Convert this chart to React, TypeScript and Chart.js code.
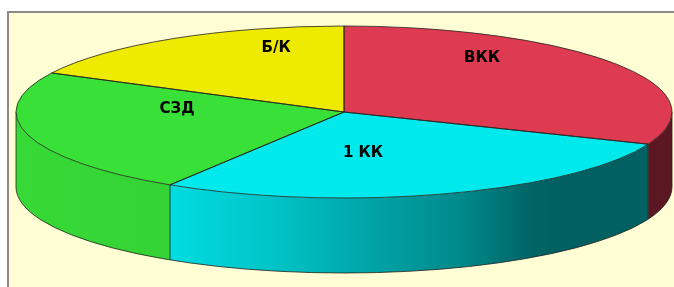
import React, { useEffect, useRef } from 'react';
import { Chart, registerables } from 'chart.js';

Chart.register(...registerables);

// ---- data ----
const categories = ['ВКК', '1 КК', 'СЗД', 'Б/К'];
const shares = [31.1, 27.8, 23.6, 17.5];
const topColors = ['#DE3A52', '#00EAEE', '#38E038', '#EEEA00'];

// ---- layout / style (not data) ----
const PIE = { cx: 344, cy: 112, rx: 328, ry: 86, depth: 75 };
// label anchors in normalized ellipse coordinates (u along rx, v along ry)
const labelSpots: number[][] = [
  [0.421, -0.64],
  [0.058, 0.465],
  [-0.509, -0.047],
  [-0.207, -0.756],
];
// side-wall lighting: [position across pie width, brightness factor]
const shadeStops: number[][] = [
  [0, 0.97],
  [0.238, 0.94],
  [0.387, 0.84],
  [0.54, 0.7],
  [0.677, 0.59],
  [0.783, 0.43],
  [0.83, 0.41],
  [1, 0.41],
];
const OUTLINE = 'rgba(35,35,30,0.8)';
const BG = '#FFFDD3';

function shade(hex: string, f: number) {
  const n = parseInt(hex.slice(1), 16);
  const r = Math.round(((n >> 16) & 255) * f);
  const g = Math.round(((n >> 8) & 255) * f);
  const b = Math.round((n & 255) * f);
  return `rgb(${r},${g},${b})`;
}

const pie3d = {
  id: 'pie3d',
  beforeDatasetsDraw(chart: any) {
    const meta = chart.getDatasetMeta(0);
    const arcs = meta.data;
    chart.$pie3dSaved = false;
    if (!arcs || !arcs.length) return;
    const ctx = chart.ctx as CanvasRenderingContext2D;
    const { cx, cy, rx, ry, depth } = PIE;

    // side walls (front half only)
    arcs.forEach((arc: any, i: number) => {
      const s = Math.max(arc.startAngle, 0);
      const e = Math.min(arc.endAngle, Math.PI);
      if (e <= s) return;
      const g = ctx.createLinearGradient(cx - rx, 0, cx + rx, 0);
      shadeStops.forEach(([p, f]) => g.addColorStop(p, shade(topColors[i], f)));
      ctx.beginPath();
      ctx.ellipse(cx, cy, rx, ry, 0, s, e, false);
      ctx.ellipse(cx, cy + depth, rx, ry, 0, e, s, true);
      ctx.closePath();
      ctx.fillStyle = g;
      ctx.fill();
    });

    // side outlines
    ctx.save();
    ctx.strokeStyle = OUTLINE;
    ctx.lineWidth = 1;
    ctx.beginPath();
    ctx.ellipse(cx, cy + depth, rx, ry, 0, 0, Math.PI, false);
    ctx.stroke();
    const verts = [0, Math.PI];
    arcs.forEach((a: any) => {
      if (a.startAngle > 0 && a.startAngle < Math.PI) verts.push(a.startAngle);
    });
    verts.forEach((t) => {
      const x = cx + rx * Math.cos(t);
      const y = cy + ry * Math.sin(t);
      ctx.beginPath();
      ctx.moveTo(x, y);
      ctx.lineTo(x, y + depth);
      ctx.stroke();
    });
    ctx.restore();

    // squash the library's own pie into the top face ellipse
    const a0 = arcs[0];
    ctx.save();
    chart.$pie3dSaved = true;
    ctx.translate(cx, cy);
    ctx.scale(rx / a0.outerRadius, ry / a0.outerRadius);
    ctx.translate(-a0.x, -a0.y);
  },
  afterDatasetsDraw(chart: any) {
    const ctx = chart.ctx as CanvasRenderingContext2D;
    if (!chart.$pie3dSaved) return;
    ctx.restore();
    chart.$pie3dSaved = false;
    const arcs = chart.getDatasetMeta(0).data;
    const { cx, cy, rx, ry } = PIE;

    // top face outlines
    ctx.save();
    ctx.strokeStyle = OUTLINE;
    ctx.lineWidth = 1;
    arcs.forEach((arc: any) => {
      const s = arc.startAngle;
      const e = arc.endAngle;
      ctx.beginPath();
      ctx.moveTo(cx, cy);
      ctx.lineTo(cx + rx * Math.cos(s), cy + ry * Math.sin(s));
      ctx.ellipse(cx, cy, rx, ry, 0, s, e, false);
      ctx.closePath();
      ctx.stroke();
    });

    // labels
    ctx.fillStyle = '#000';
    ctx.font = 'bold 15px "DejaVu Sans"';
    ctx.textAlign = 'center';
    ctx.textBaseline = 'middle';
    categories.forEach((c, i) => {
      const [u, v] = labelSpots[i];
      ctx.fillText(c, cx + u * rx, cy + v * ry + 1);
    });
    ctx.restore();
  },
};

export default function App() {
  const ref = useRef<HTMLCanvasElement | null>(null);

  useEffect(() => {
    if (!ref.current) return;
    const chart = new Chart(ref.current, {
      type: 'pie',
      data: {
        labels: categories,
        datasets: [
          {
            data: shares,
            backgroundColor: topColors,
            borderWidth: 0,
            clip: false,
          } as any,
        ],
      },
      options: {
        responsive: false,
        maintainAspectRatio: false,
        devicePixelRatio: 1,
        animation: false,
        events: [],
        layout: { padding: 0 },
        plugins: {
          legend: { display: false },
          tooltip: { enabled: false },
        },
      },
      plugins: [pie3d],
    });
    return () => chart.destroy();
  }, []);

  return (
    <div
      style={{
        position: 'fixed',
        left: 0,
        top: 0,
        width: 674,
        height: 287,
        background: '#fff',
        overflow: 'hidden',
      }}
    >
      <div
        style={{
          position: 'absolute',
          left: 7,
          top: 11,
          width: 720,
          height: 320,
          border: '2px solid #8a8a8a',
          background: BG,
        }}
      />
      <canvas
        ref={ref}
        width={674}
        height={287}
        style={{ position: 'absolute', left: 0, top: 0 }}
      />
    </div>
  );
}
